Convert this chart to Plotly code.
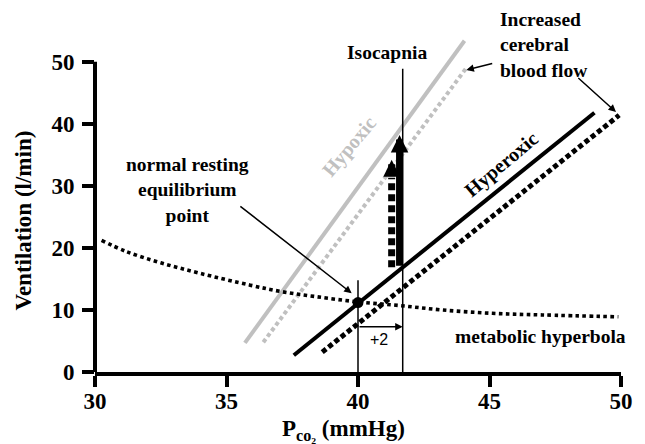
import plotly.graph_objects as go

# Ventilatory CO2 response lines (Pco2 in mmHg, ventilation in l/min)
hypoxic_x = [35.7, 44.05]
hypoxic_y = [4.7, 53.4]
hypoxic_cbf_x = [36.4, 44.1]
hypoxic_cbf_y = [4.8, 48.9]
hyperoxic_x = [37.56, 48.99]
hyperoxic_y = [2.7, 41.8]
hyperoxic_cbf_x = [38.64, 49.93]
hyperoxic_cbf_y = [3.2, 41.4]

# Metabolic hyperbola
hyper_x = [30.25, 31.2, 32.5, 34.0, 35.9, 37.1, 38.4, 40.0, 41.6, 43.2, 45.1, 47.0, 49.9]
hyper_y = [21.2, 19.4, 17.6, 15.9, 14.0, 12.95, 12.15, 11.3, 10.7, 10.0, 9.46, 9.2, 8.9]

# Resting equilibrium point and isocapnic references
rest_x, rest_y = 40.0, 11.2
iso_x = 41.7
iso_top = 48.9
rest_line_top = 14.8
shift_y = 7.3

# Isocapnic ventilatory rise (solid: hyperoxic, dashed: with increased CBF)
rise_solid_x = 41.58
rise_solid_y = [16.9, 38.2]
rise_dash_x = 41.28
rise_dash_y = [16.9, 31.3, 34.2]

x_ticks = [30, 35, 40, 45, 50]
y_ticks = [0, 10, 20, 30, 40, 50]

SERIF = "Liberation Serif"
GRAY = "#c0c0c0"

fig = go.Figure()


def line(x, y, color, width, dash="solid", shape="linear"):
    fig.add_trace(go.Scatter(x=x, y=y, mode="lines", hoverinfo="skip",
                             line=dict(color=color, width=width, dash=dash, shape=shape)))


line(hypoxic_x, hypoxic_y, GRAY, 4)
line(hypoxic_cbf_x, hypoxic_cbf_y, GRAY, 4, "4px,3px")
line(hyperoxic_x, hyperoxic_y, "black", 4)
line(hyperoxic_cbf_x, hyperoxic_cbf_y, "black", 5, "5px,3px")
line(hyper_x, hyper_y, "black", 3.6, "3.6px,3.4px", "spline")

# reference verticals
line([iso_x, iso_x], [0, iso_top], "black", 1.5)
line([rest_x, rest_x], [0, rest_line_top], "black", 1.5)

# dashed shaft of the CBF rise
line([rise_dash_x, rise_dash_x], rise_dash_y[:2], "black", 7, "7px,4px")

fig.add_trace(go.Scatter(x=[rest_x], y=[rest_y], mode="markers", hoverinfo="skip",
                         marker=dict(color="black", size=11)))

annotations = []


def arrow(x0, y0, x1, y1, width=1.5, size=1.0, head=2):
    annotations.append(dict(x=x1, y=y1, ax=x0, ay=y0, xref="x", yref="y",
                            axref="x", ayref="y", text="", showarrow=True,
                            arrowhead=head, arrowwidth=width, arrowsize=size,
                            arrowcolor="black"))


arrow(rise_solid_x, rise_solid_y[0], rise_solid_x, rise_solid_y[1], width=7, size=0.5)
arrow(rise_dash_x, rise_dash_y[1], rise_dash_x, rise_dash_y[2], width=7, size=0.48)
arrow(35.47, 26.9, 39.76, 12.7)
arrow(45.16, 49.8, 44.12, 48.7)
arrow(48.32, 47.6, 49.81, 41.9)
arrow(rest_x, shift_y, iso_x, shift_y, width=1.5, size=1.0)


def label(text, x, y, size=19.5, color="black", angle=0, xanchor="center",
          align="center", family=SERIF, bold=True, xref="x", yref="y"):
    if bold:
        text = "<b>" + text.replace("<br>", "</b><br><b>") + "</b>"
    annotations.append(dict(text=text, x=x, y=y, xref=xref, yref=yref,
                            showarrow=False, textangle=angle, xanchor=xanchor,
                            yanchor="middle", align=align,
                            font=dict(family=family, size=size, color=color)))


label("Isocapnia", 41.1, 51.45)
label("Increased<br>cerebral<br>blood flow", 45.34, 52.7, xanchor="left", align="left")
label("normal resting<br>equilibrium<br>point", 33.5, 29.4)
label("metabolic hyperbola", 46.95, 5.65)
label("+2", 40.8, 5.2, size=16, family="Liberation Sans", bold=False)
label("Hypoxic", 39.68, 36.3, size=20, color=GRAY, angle=-50)
label("Hyperoxic", 45.45, 33.5, size=20, angle=-40)
label("Ventilation (l/min)", -0.135, 24.4, size=23, angle=-90, xref="paper")
label("P<sub>co₂</sub> (mmHg)", 39.46, -0.172, size=23, yref="paper")

fig.update_layout(
    width=645, height=444,
    margin=dict(l=95, r=13, t=37, b=72),
    paper_bgcolor="white", plot_bgcolor="white",
    showlegend=False,
    annotations=annotations,
    shapes=[dict(type="line", xref="paper", yref="paper", x0=0, x1=0,
                 y0=0, y1=50 / 54, line=dict(color="black", width=4))],
    font=dict(family=SERIF, color="black"),
)
fig.update_xaxes(range=[30, 50], tickvals=x_ticks, ticks="outside", ticklen=11,
                 tickwidth=4, tickcolor="black", showline=True, linewidth=4,
                 linecolor="black", showgrid=False, zeroline=False,
                 ticklabelstandoff=-6,
                 tickfont=dict(family=SERIF, size=23, weight="bold"))
fig.update_yaxes(range=[0, 54], tickvals=y_ticks, ticks="outside", ticklen=12,
                 tickwidth=4, tickcolor="black", showline=False, showgrid=False,
                 zeroline=False, ticklabelstandoff=3,
                 tickfont=dict(family=SERIF, size=23, weight="bold"))

fig.write_html("out.html")
